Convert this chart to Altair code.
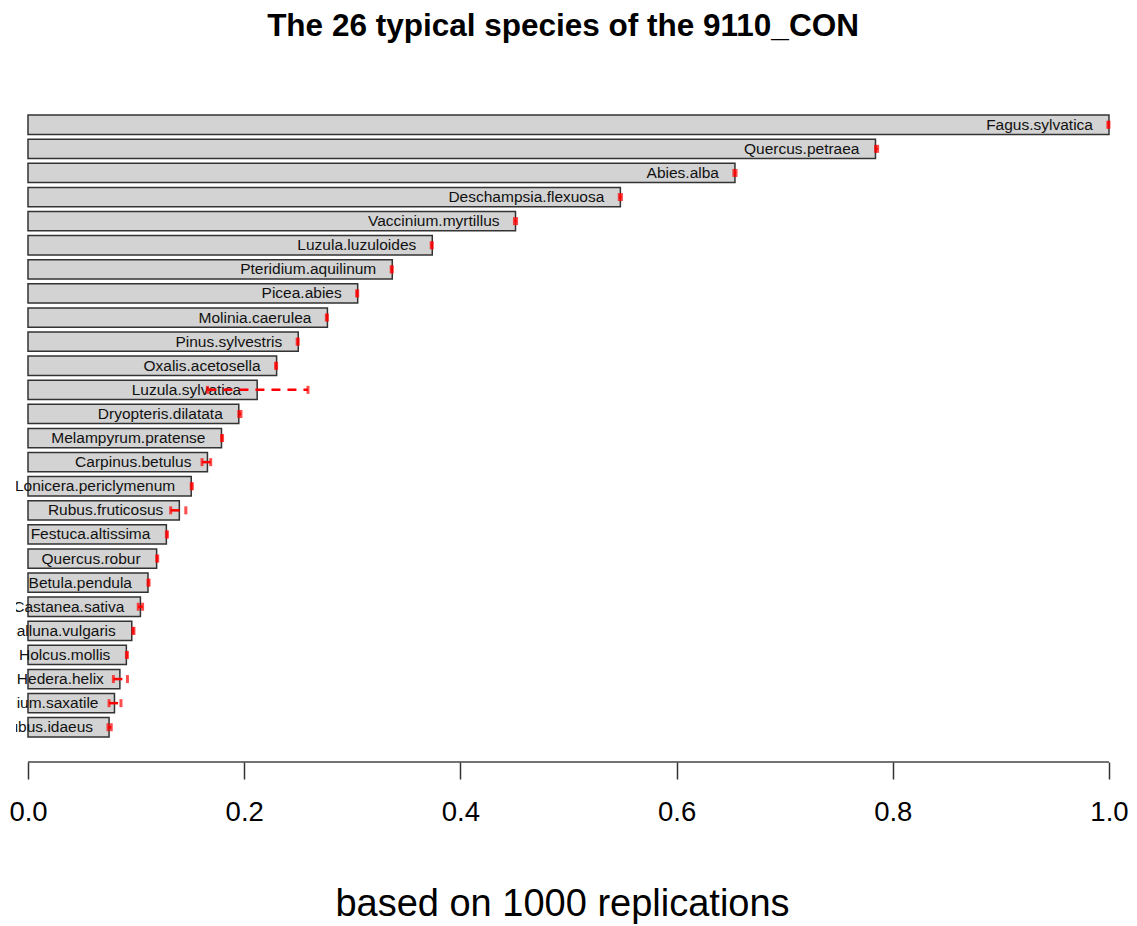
import altair as alt
import pandas as pd

species = [
    "Fagus.sylvatica", "Quercus.petraea", "Abies.alba", "Deschampsia.flexuosa",
    "Vaccinium.myrtillus", "Luzula.luzuloides", "Pteridium.aquilinum", "Picea.abies",
    "Molinia.caerulea", "Pinus.sylvestris", "Oxalis.acetosella", "Luzula.sylvatica",
    "Dryopteris.dilatata", "Melampyrum.pratense", "Carpinus.betulus",
    "Lonicera.periclymenum", "Rubus.fruticosus", "Festuca.altissima", "Quercus.robur",
    "Betula.pendula", "Castanea.sativa", "Calluna.vulgaris", "Holcus.mollis",
    "Hedera.helix", "Galium.saxatile", "Rubus.idaeus",
]
values = [
    1.000, 0.784, 0.654, 0.548, 0.451, 0.374, 0.337, 0.305, 0.277, 0.250, 0.230,
    0.212, 0.195, 0.179, 0.166, 0.151, 0.140, 0.128, 0.119, 0.111, 0.104, 0.096,
    0.091, 0.085, 0.080, 0.075,
]
err_low = [
    0.999, 0.784, 0.653, 0.547, 0.450, 0.373, 0.336, 0.304, 0.276, 0.249, 0.229,
    0.166, 0.195, 0.179, 0.161, 0.151, 0.132, 0.128, 0.119, 0.111, 0.102, 0.097,
    0.091, 0.079, 0.075, 0.074,
]
err_high = [
    1.000, 0.786, 0.655, 0.549, 0.452, 0.374, 0.337, 0.305, 0.277, 0.250, 0.230,
    0.259, 0.197, 0.180, 0.169, 0.152, 0.146, 0.129, 0.120, 0.112, 0.106, 0.098,
    0.092, 0.092, 0.086, 0.077,
]
axis_ticks = [0.0, 0.2, 0.4, 0.6, 0.8, 1.0]

df = pd.DataFrame({"species": species, "value": values, "lo": err_low, "hi": err_high})
axis_df = pd.DataFrame({"a": [axis_ticks[0]], "b": [axis_ticks[-1]]})

FONT = "Liberation Sans"
W, H = 1104, 670
xscale = alt.Scale(domain=[-0.0111, 1.0102], nice=False, zero=False)
yscale = alt.Scale(paddingInner=0.2, paddingOuter=1.0)

xaxis = alt.Axis(
    values=axis_ticks, format=".1f", domain=False, grid=False, offset=1,
    tickSize=17, tickWidth=1.5, tickColor="#333", labelFontSize=27.5,
    labelFont=FONT, labelColor="black", labelPadding=19, labelFlush=False,
    title="based on 1000 replications", titleFontSize=38, titleFont=FONT,
    titleFontWeight="normal", titleColor="black", titlePadding=60,
    titleX=W / 2 - 6, titleAlign="center",
)
yenc = alt.Y("species:N", sort=species, scale=yscale, axis=None)

base = alt.Chart(df)

bars = base.mark_bar(fill="#d3d3d3", stroke="#333", strokeWidth=1.5).encode(
    x=alt.X("value:Q", scale=xscale, axis=xaxis), y=yenc
)
labels = base.mark_text(
    align="right", baseline="middle", dx=-16, fontSize=15.5, font=FONT,
    color="#111", clip=True,
).encode(x=alt.X("value:Q", scale=xscale), y=yenc, text="species:N")
err = base.mark_rule(color="red", strokeWidth=2.5, strokeDash=[9, 7]).encode(
    x=alt.X("lo:Q", scale=xscale), x2="hi:Q", y=yenc
)
cap_lo = base.mark_tick(color="red", thickness=3, size=8).encode(
    x=alt.X("lo:Q", scale=xscale), y=yenc
)
cap_hi = base.mark_tick(color="red", thickness=3, size=8).encode(
    x=alt.X("hi:Q", scale=xscale), y=yenc
)
axis_line = alt.Chart(axis_df).mark_rule(color="#444", strokeWidth=1.5).encode(
    x=alt.X("a:Q", scale=xscale), x2="b:Q", y=alt.value(H + 1)
)

chart = alt.layer(bars, labels, err, cap_lo, cap_hi, axis_line).properties(
    width=W, height=H,
    title=alt.TitleParams(
        "The 26 typical species of the 9110_CON", fontSize=31.5, fontWeight="bold",
        font=FONT, offset=49, anchor="middle", color="black", dx=-5,
    ),
    padding={"left": 0, "top": 2, "right": 0, "bottom": 2},
).configure_view(stroke=None)

chart.save("out.html", embed_options={"renderer": "svg", "actions": False})
